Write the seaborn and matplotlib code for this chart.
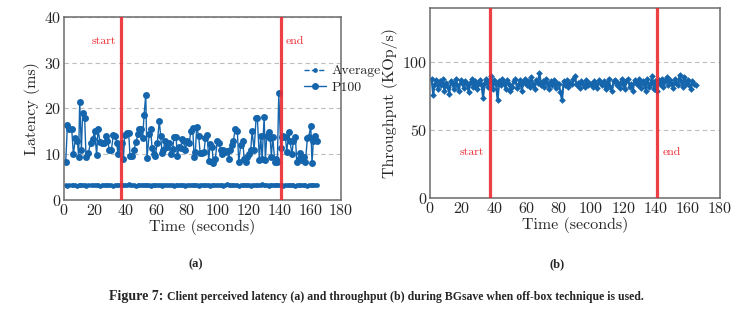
import numpy as np
import pandas as pd
import matplotlib
matplotlib.use("Agg")
import matplotlib.pyplot as plt
import seaborn as sns

# ---------------- data ----------------
p100_time = [1.1, 2.2, 3.5, 5.0, 6.1, 7.4, 8.7, 9.5, 10.2, 11.3, 12.1, 13.4, 14.3, 15.8, 17.3,
             18.6, 19.9, 21.2, 22.1, 23.4, 24.7, 26.0, 27.3, 28.2, 29.5, 30.8, 32.1, 33.4, 34.2,
             35.1, 36.4, 37.7, 38.6, 39.4, 40.7, 42.0, 42.9, 44.2, 45.5, 46.8, 48.1, 48.9, 50.2,
             51.1, 52.0, 53.1, 53.9, 55.4, 56.3, 57.2, 58.5, 59.3, 60.6, 61.9, 62.8, 63.7, 64.5,
             65.8, 67.1, 68.0, 69.3, 70.6, 71.5, 72.8, 73.6, 74.9, 75.8, 76.7, 78.0, 78.8, 80.1,
             81.4, 82.3, 83.6, 84.5, 85.3, 86.2, 87.5, 88.4, 89.7, 91.0, 91.8, 93.1, 94.0, 94.9,
             96.2, 97.0, 98.3, 99.6, 100.5, 101.8, 102.7, 103.5, 104.8, 106.1, 107.0, 107.9,
             109.2, 110.0, 111.3, 112.6, 113.5, 114.8, 116.1, 117.0, 118.3, 119.1, 120.0, 121.3,
             122.2, 123.5, 124.8, 125.6, 126.9, 127.8, 128.7, 130.0, 130.8, 131.7, 133.0, 133.9,
             134.7, 135.6, 136.9, 137.8, 138.6, 139.5, 140.8, 141.6, 142.5, 143.8, 144.7, 146.0,
             146.8, 148.1, 149.0, 150.3, 151.2, 152.5, 153.3, 154.6, 155.9, 156.8, 158.1, 159.0,
             160.3, 161.1, 162.0, 163.3, 164.2]
p100 = [8.2, 16.3, 15.5, 15.5, 10, 13.5, 13, 9.5, 21.5, 11, 19, 18, 9.5, 10.3, 12.5,
        13.3, 15, 9.8, 15.5, 12.7, 12.5, 12.5, 14, 13, 11, 11, 14.3, 14, 12.5,
        10, 11.5, 12.5, 9, 14.2, 14.7, 14.7, 9.6, 9.6, 11, 12.7, 14.5, 15.5, 15.5,
        13.5, 18.5, 23, 9.2, 14.5, 15.5, 11.3, 10, 9.6, 12.5, 17.3, 14, 10.3, 11,
        13, 11.5, 12.5, 10, 11.2, 13.8, 13.8, 9.6, 11.5, 11.3, 13.3, 13, 11, 12.8,
        12.5, 15, 15.8, 9.5, 10.5, 16, 14, 10.3, 10.3, 10.5, 13.5, 14.3, 8.5, 12.3,
        11.5, 8, 9, 13, 12.5, 11, 10, 11, 10.5, 10.8, 9, 11,
        12, 13, 15.5, 15, 8.3, 12, 13, 9, 8.3, 9.5, 10, 11,
        15, 11, 18, 18, 8.8, 14, 9, 18.2, 8.8, 14, 14.8, 13.5,
        9.5, 13.8, 8.3, 9, 8.3, 23.3, 11.3, 13.8, 14, 13.8, 10.5, 14.8,
        12.8, 10, 13, 13.7, 8.3, 9, 10.2, 8.8, 9.5, 8.3, 13.5, 13.8,
        16.2, 8, 13, 14, 12.8]
avg = [3.2, 3.1, 3.2, 3.2, 3.3, 3.2, 3.1, 3.2, 3.2, 3.3, 3.2, 3.2, 3.1, 3.2, 3.2,
       3.2, 3.3, 3.2, 3.2, 3.1, 3.2, 3.2, 3.3, 3.2, 3.2, 3.2, 3.1, 3.2, 3.2,
       3.3, 3.2, 3.2, 3.2, 3.3, 3.2, 3.5, 3.3, 3.2, 3.2, 3.1, 3.2, 3.3, 3.2,
       3.2, 3.2, 3.3, 3.2, 3.2, 3.1, 3.2, 3.2, 3.3, 3.2, 3.2, 3.2, 3.1, 3.2,
       3.2, 3.3, 3.2, 3.2, 3.2, 3.1, 3.2, 3.2, 3.2, 3.3, 3.2, 3.2, 3.1, 3.2,
       3.2, 3.2, 3.3, 3.2, 3.2, 3.2, 3.1, 3.2, 3.2, 3.2, 3.3, 3.2, 3.2, 3.1,
       3.2, 3.2, 3.2, 3.3, 3.2, 3.2, 3.2, 3.1, 3.2, 3.4, 3.2, 3.2,
       3.2, 3.3, 3.2, 3.2, 3.1, 3.2, 3.2, 3.3, 3.2, 3.2, 3.2, 3.1,
       3.2, 3.2, 3.3, 3.2, 3.2, 3.2, 3.6, 3.3, 3.2, 3.2, 3.1, 3.2,
       3.2, 3.3, 3.2, 3.2, 3.2, 3.3, 3.2, 3.2, 3.1, 3.2, 3.2, 3.3,
       3.2, 3.2, 3.2, 3.1, 3.2, 3.2, 3.3, 3.2, 3.2, 3.2, 3.1, 3.2,
       3.2, 3.3, 3.2, 3.2, 3.3]

tput_time = list(range(1, 166))
tput = [88, 76, 84, 87, 80, 86, 83, 88, 79, 85,
        82, 77, 86, 84, 80, 88, 83, 79, 87, 85,
        81, 86, 84, 78, 85, 88, 82, 86, 80, 84,
        87, 83, 74, 85, 88, 82, 86, 90, 80, 87,
        84, 72, 86, 83, 88, 85, 80, 87, 84, 79,
        82, 86, 88, 81, 84, 87, 79, 85, 88, 83,
        86, 82, 89, 84, 80, 87, 85, 92, 83, 86,
        82, 88, 84, 80, 86, 83, 87, 81, 85, 84,
        78, 72, 86, 83, 87, 82, 85, 84, 88, 90,
        83, 85, 81, 86, 84, 82, 87, 83, 85, 84,
        82, 86, 84, 81, 87, 85, 83, 86, 80, 84,
        88, 82, 79, 86, 87, 83, 85, 81, 88, 84,
        80, 86, 88, 82, 84, 79, 87, 85, 83, 88,
        81, 86, 84, 79, 88, 82, 85, 90, 80, 86,
        79, 87, 84, 88, 82, 86, 89, 83, 87, 84,
        81, 88, 85, 83, 91, 86, 82, 89, 84, 87,
        83, 80, 86, 84, 83]

event_times = [37, 141]
event_labels = ["start", "end"]
x_ticks = list(range(0, 181, 20))

# ---------------- style ----------------
sns.set_theme(style="white")
plt.rcParams["font.family"] = ["cmr10", "DejaVu Serif"]
plt.rcParams["axes.formatter.use_mathtext"] = True
plt.rcParams["mathtext.fontset"] = "cm"

BLUE = "#1565ad"
RED = "#ec2a32"
SPINE = "#6b6b6b"
CAP_FONT = ["Liberation Sans Narrow", "Liberation Serif", "DejaVu Serif"]

fig = plt.figure(figsize=(7.53, 3.21), dpi=100)
axL = fig.add_axes([0.085, 0.377, 0.368, 0.570])
axR = fig.add_axes([0.571, 0.383, 0.385, 0.592])

df_lat = pd.DataFrame({"t": p100_time, "p100": p100, "avg": avg})
df_tp = pd.DataFrame({"t": tput_time, "tput": tput})

# Left: latency
sns.lineplot(data=df_lat, x="t", y="avg", ax=axL, color=BLUE, linestyle="--", lw=1.0,
             marker="o", markersize=3.4, markeredgewidth=0, label="Average")
sns.lineplot(data=df_lat, x="t", y="p100", ax=axL, color=BLUE, lw=1.0,
             marker="o", markersize=5, markeredgewidth=0, label="P100")
axL.set_ylim(0, 40)
axL.set_yticks([0, 10, 20, 30, 40])
axL.set_ylabel("Latency (ms)", fontsize=11.5, labelpad=3)

# Right: throughput
sns.lineplot(data=df_tp, x="t", y="tput", ax=axR, color=BLUE, lw=1.5,
             marker="D", markersize=3.4, markeredgewidth=0, legend=False)
axR.set_ylim(0, 140)
axR.set_yticks([0, 50, 100])
axR.set_ylabel("Throughput (KOp/s)", fontsize=11.5, labelpad=3)

text_y = {axL: 34.8, axR: 34}
for ax in (axL, axR):
    ax.set_xlim(0, 180)
    ax.set_xticks(x_ticks)
    ax.set_xlabel("Time (seconds)", fontsize=11.5, labelpad=1)
    ax.tick_params(axis="both", labelsize=11.5, length=0, pad=2)
    ax.yaxis.grid(True, linestyle=(0, (4, 3)), color="#bdbdbd", lw=0.8)
    ax.xaxis.grid(False)
    for s in ax.spines.values():
        s.set_color(SPINE)
        s.set_linewidth(1.1)
    for t in event_times:
        ax.axvline(t, color=RED, lw=2.3, alpha=0.9, zorder=5)
    ax.text(26, text_y[ax], event_labels[0], color=RED, fontsize=8.5, ha="center", va="center")
    ax.text(150, text_y[ax], event_labels[1], color=RED, fontsize=8.5, ha="center", va="center")

leg = axL.legend(loc="center left", bbox_to_anchor=(0.845, 0.66), frameon=False,
                 fontsize=10, handlelength=1.6, handletextpad=0.4, labelspacing=0.25,
                 borderaxespad=0)

fig.text(196 / 753, 1 - 264 / 321, "(a)", ha="center", va="center", fontsize=9,
         fontweight="bold", family=CAP_FONT)
fig.text(557 / 753, 1 - 264 / 321, "(b)", ha="center", va="center", fontsize=9,
         fontweight="bold", family=CAP_FONT)

# caption: larger "Figure 7:" followed by smaller text
cap_y = 1 - 300 / 321
renderer = fig.canvas.get_renderer()
t1 = fig.text(0, cap_y, "Figure 7:", ha="left", va="baseline", fontsize=10,
              fontweight="bold", family=CAP_FONT)
t2 = fig.text(0, cap_y,
              " Client perceived latency (a) and throughput (b) during BGsave when off-box technique is used.",
              ha="left", va="baseline", fontsize=8.5, fontweight="bold", family=CAP_FONT)
w1 = t1.get_window_extent(renderer).width / fig.bbox.width
w2 = t2.get_window_extent(renderer).width / fig.bbox.width
x0 = 0.5 - (w1 + w2) / 2
t1.set_x(x0)
t2.set_x(x0 + w1)

fig.savefig("out.png", dpi=100)
